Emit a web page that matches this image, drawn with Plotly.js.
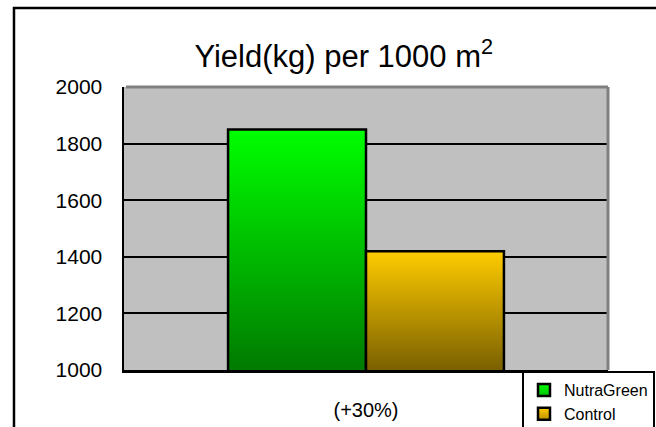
<!DOCTYPE html>
<html>
<head>
<meta charset="utf-8">
<script src="https://cdn.plot.ly/plotly-3.0.1.min.js"></script>
<style>
  html, body { margin: 0; padding: 0; background: #fff; }
  #chart { width: 656px; height: 427px; }
</style>
</head>
<body>
<div id="chart"></div>
<script>
// ---- data ----
const categories = ["(+30%)"];
const seriesNames = ["NutraGreen", "Control"];
const nutraGreenValues = [1850];
const controlValues = [1420];
const yTickValues = [1000, 1200, 1400, 1600, 1800, 2000];
const yTickLabels = ["1000", "1200", "1400", "1600", "1800", "2000"];

const FONT = "Liberation Sans, Arial, sans-serif";

const gradients = {
  NutraGreen: ["#00FF00", "#007A00"],
  Control: ["#FFCC00", "#7A6000"]
};

const traces = [
  {
    type: "bar", name: seriesNames[0], x: categories, y: nutraGreenValues,
    marker: { color: "#00CC00", line: { color: "#000", width: 2.5 } },
    hoverinfo: "skip"
  },
  {
    type: "bar", name: seriesNames[1], x: categories, y: controlValues,
    marker: { color: "#E0B000", line: { color: "#000", width: 2.5 } },
    hoverinfo: "skip"
  }
];

const layout = {
  width: 656, height: 427,
  margin: { l: 124, r: 48, t: 87, b: 57, autoexpand: false },
  paper_bgcolor: "#FFFFFF",
  plot_bgcolor: "#C0C0C0",
  barmode: "group",
  bargap: 0.43,
  bargroupgap: 0,
  showlegend: true,
  font: { family: FONT, color: "#000" },
  title: {
    text: "Yield(kg) per 1000 m<sup>2</sup>",
    font: { family: FONT, size: 31, color: "#000" },
    xref: "container", x: 0.524, xanchor: "center",
    yref: "container", y: 0.868, yanchor: "middle"
  },
  xaxis: {
    type: "category",
    showline: true, linecolor: "#000", linewidth: 2.5,
    showgrid: false, ticks: "",
    tickfont: { family: FONT, size: 20, color: "#000" },
    ticklabelstandoff: 20,
    fixedrange: true
  },
  yaxis: {
    range: [1000, 2000],
    tickvals: yTickValues, ticktext: yTickLabels,
    showline: true, linecolor: "#000", linewidth: 2.5,
    showgrid: true, gridcolor: "#000", gridwidth: 2,
    zeroline: false,
    ticks: "inside", ticklen: 5, tickwidth: 2, tickcolor: "#000",
    tickfont: { family: FONT, size: 21, color: "#000" },
    ticklabelstandoff: 15,
    fixedrange: true
  },
  legend: {
    x: 0.8223, xanchor: "left", xref: "paper",
    y: -0.004, yanchor: "top", yref: "paper",
    bgcolor: "#FFFFFF", bordercolor: "#000", borderwidth: 2,
    font: { family: FONT, size: 16, color: "#000" },
    tracegroupgap: 0, itemwidth: 30,
    traceorder: "normal"
  },
  shapes: [
    // outer chart border (extends off the right and bottom edges)
    { type: "rect", xref: "paper", yref: "paper",
      x0: -0.2273, x1: 1.3, y0: 1.279, y1: -0.4,
      line: { color: "#000", width: 2.5 }, fillcolor: "rgba(0,0,0,0)", layer: "above" },
    // grey top and right border of the plot area
    { type: "line", xref: "paper", yref: "paper", x0: 0.004, x1: 1, y0: 1, y1: 1,
      line: { color: "#808080", width: 3 }, layer: "above" },
    { type: "line", xref: "paper", yref: "paper", x0: 1, x1: 1, y0: 1, y1: 0,
      line: { color: "#808080", width: 3 }, layer: "above" }
  ]
};

function applyGradients(gd) {
  const svg = gd.querySelector("svg.main-svg");
  const ns = "http://www.w3.org/2000/svg";
  let defs = svg.querySelector("defs");
  if (!defs) { defs = document.createElementNS(ns, "defs"); svg.insertBefore(defs, svg.firstChild); }
  let counter = 0;
  function makeGrad(colors, bbox, userSpace) {
    const id = "grad" + (counter++);
    const g = document.createElementNS(ns, "linearGradient");
    g.setAttribute("id", id);
    if (userSpace) {
      g.setAttribute("gradientUnits", "userSpaceOnUse");
      g.setAttribute("x1", 0); g.setAttribute("x2", 0);
      g.setAttribute("y1", bbox.y0); g.setAttribute("y2", bbox.y1);
    } else {
      g.setAttribute("x1", 0); g.setAttribute("y1", 0);
      g.setAttribute("x2", 0); g.setAttribute("y2", 1);
    }
    [[0, colors[0]], [1, colors[1]]].forEach(([o, c]) => {
      const s = document.createElementNS(ns, "stop");
      s.setAttribute("offset", o); s.setAttribute("stop-color", c);
      g.appendChild(s);
    });
    defs.appendChild(g);
    return id;
  }
  const plotH = gd._fullLayout._size.h;
  const barTraces = gd.querySelectorAll(".barlayer .trace.bars");
  barTraces.forEach((tr, i) => {
    const name = seriesNames[i];
    tr.querySelectorAll(".point path").forEach(p => {
      const bb = p.getBBox();
      const y0 = Math.max(bb.y, 0), y1 = Math.min(bb.y + bb.height, plotH);
      const id = makeGrad(gradients[name], { y0, y1 }, true);
      p.style.fill = "url(#" + id + ")";
    });
  });
  const legendItems = gd.querySelectorAll(".legend .traces");
  legendItems.forEach((it, i) => {
    const name = seriesNames[i];
    it.querySelectorAll(".legendpoints path").forEach(p => {
      const id = makeGrad([gradients[name][0], name === "NutraGreen" ? "#00C000" : "#C09000"], null, false);
      p.style.fill = "url(#" + id + ")";
    });
  });
}

Plotly.newPlot("chart", traces, layout, { displayModeBar: false, staticPlot: true })
  .then(gd => applyGradients(gd));
</script>
</body>
</html>
